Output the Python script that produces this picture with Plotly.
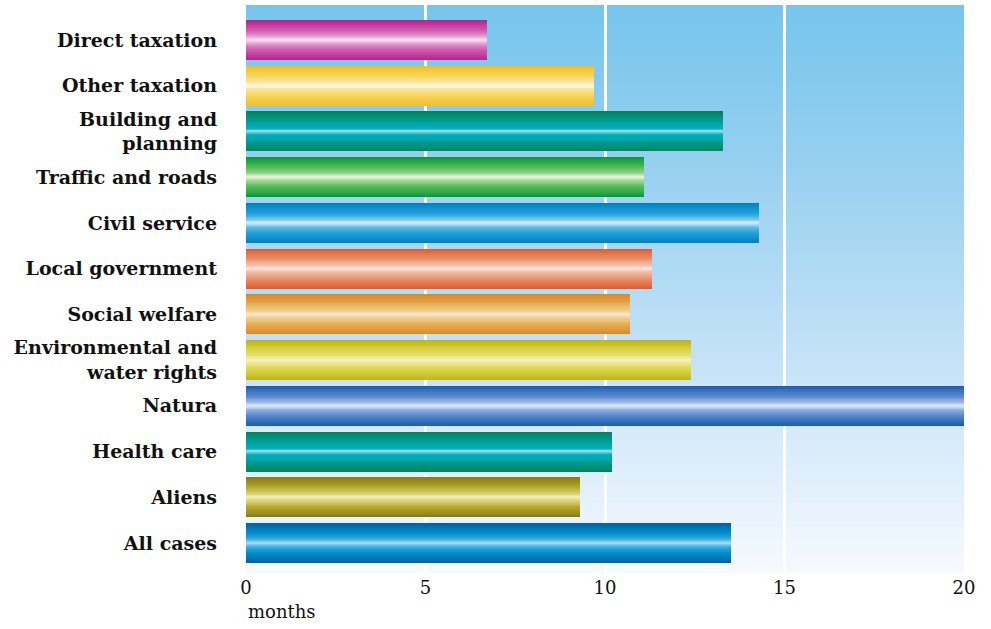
import plotly.graph_objects as go

# Average processing time per case type, in months
categories = [
    "Direct taxation", "Other taxation", "Building and<br>planning",
    "Traffic and roads", "Civil service", "Local government",
    "Social welfare", "Environmental and<br>water rights", "Natura",
    "Health care", "Aliens", "All cases",
]
months = [6.7, 9.7, 13.3, 11.1, 14.3, 11.3, 10.7, 12.4, 20.0, 10.2, 9.3, 13.5]
x_ticks = [0, 5, 10, 15, 20]
x_unit = "months"

# Colour ramps for each bar, from the dark outer edge to the bright centre streak
bar_ramps = [
    ["#b8258f", "#cf5aac", "#e4a0d2", "#f4d8ef"],
    ["#f2bf28", "#f7d45a", "#fbe6a0", "#fdf6d8"],
    ["#00855a", "#009e98", "#00afbf", "#8cd8e2"],
    ["#0a9a3c", "#52ba56", "#a2d892", "#e0f2d4"],
    ["#0083c3", "#1f9fd8", "#72c4ea", "#c4e8f8"],
    ["#dd5f2f", "#e9906c", "#f2c0a8", "#f9e0d6"],
    ["#db8923", "#e7ad55", "#f0d090", "#f7e8c6"],
    ["#c2b61a", "#d8d444", "#eae582", "#f3f1bc"],
    ["#1c5fb0", "#5686cb", "#9cb9e6", "#d2e2f6"],
    ["#00855a", "#009e98", "#00afbf", "#8cd8e2"],
    ["#897d13", "#b5a82e", "#dcd47a", "#f1ebb6"],
    ["#0063ab", "#008fcb", "#3fafe3", "#9cd6f2"],
]
ramp_stops = [0.0, 0.5, 0.85, 1.0]

# Plot-area background: sky blue at the top fading to near white
bg_stops = [0.0, 0.26, 0.66, 1.0]
bg_colors = [(118, 197, 236), (148, 207, 239), (201, 228, 248), (246, 249, 254)]


def hex_rgb(h):
    h = h.lstrip("#")
    return tuple(int(h[i:i + 2], 16) for i in (0, 2, 4))


def ramp(stops, cols, t):
    for i in range(len(stops) - 1):
        if stops[i] <= t <= stops[i + 1]:
            f = (t - stops[i]) / (stops[i + 1] - stops[i])
            a, b = cols[i], cols[i + 1]
            return tuple(round(a[j] + (b[j] - a[j]) * f) for j in range(3))
    return cols[-1]


def rgb(c):
    return "rgb(%d,%d,%d)" % c


positions = list(range(len(categories)))
bar_width = 0.875
layers = 22

fig = go.Figure()

# Each bar is built from nested, progressively narrower bars so the colour
# runs from dark edges to a light centre, giving a tube-like look.
ramps_rgb = [[hex_rgb(c) for c in r] for r in bar_ramps]
for k in range(layers):
    t = k / (layers - 1)
    fig.add_trace(go.Bar(
        x=months,
        y=positions,
        orientation="h",
        width=bar_width * (1 - k / layers),
        marker=dict(color=[rgb(ramp(ramp_stops, r, t)) for r in ramps_rgb],
                    line=dict(width=0)),
        hoverinfo="skip" if k else "x+y",
        showlegend=False,
    ))

# Background gradient strips, drawn beneath the grid lines
strips = 190
for i in range(strips):
    t = (i + 0.5) / strips
    fig.add_shape(
        type="rect", xref="x domain", yref="y domain",
        x0=0, x1=1, y0=1 - i / strips, y1=1 - (i + 1) / strips - 0.002,
        fillcolor=rgb(ramp(bg_stops, bg_colors, t)),
        line=dict(width=0), layer="below",
    )

fig.add_annotation(
    text=x_unit, xref="paper", yref="paper", x=0, y=-0.07,
    xanchor="left", yanchor="middle", showarrow=False,
    font=dict(family="DejaVu Serif", size=18, color="#111111"),
)

fig.update_layout(
    width=991, height=629,
    margin=dict(l=246, r=27, t=5, b=57),
    paper_bgcolor="white",
    plot_bgcolor="rgba(0,0,0,0)",
    barmode="overlay",
    bargap=0,
    xaxis=dict(
        range=[0, 20], tickvals=x_ticks, ticks="", showline=False,
        zeroline=False, showgrid=True, gridcolor="white", gridwidth=2.5,
        tickfont=dict(family="DejaVu Serif", size=18, color="#111111"),
        ticklabelstandoff=3, fixedrange=True,
    ),
    yaxis=dict(
        range=[11.635, -0.765], tickvals=positions, ticktext=categories,
        ticks="", showline=False, zeroline=False, showgrid=False,
        tickfont=dict(family="DejaVu Serif", size=19, color="#111111",
                      weight="bold"),
        ticklabelstandoff=28, fixedrange=True,
    ),
)

fig.write_html("out.html")
